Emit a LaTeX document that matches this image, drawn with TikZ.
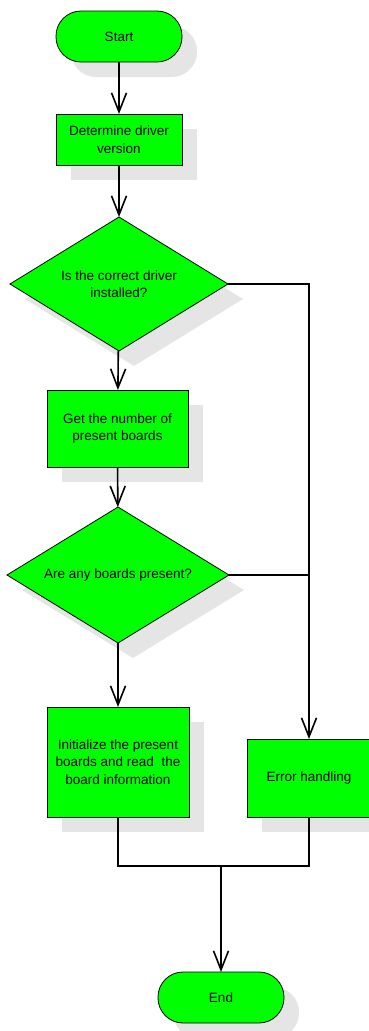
\documentclass[tikz,border=0pt]{standalone}
\usepackage{fontspec}
\setmainfont{Liberation Sans}
\usetikzlibrary{shapes.geometric,shadows,arrows.meta}
\definecolor{boxgreen}{HTML}{00FF00}
\definecolor{shadegray}{HTML}{E5E5E5}
\begin{document}
\begin{tikzpicture}[x=1pt,y=-1pt,
  base/.style={draw=black,line width=0.8pt,fill=boxgreen,outer sep=0pt,inner sep=0pt,
    align=center,font=\fontsize{13.5}{17.5}\selectfont,
    drop shadow={shadow xshift=15pt,shadow yshift=-15pt,fill=shadegray,opacity=1}},
  terminal/.style={base,rectangle,rounded corners=25pt,minimum width=126pt,minimum height=51pt},
  procbox/.style={base,rectangle},
  decision/.style={base,diamond,aspect=1.63},
  flow/.style={line width=1.6pt,draw=black},
  arr/.style={flow,-{Straight Barb[length=19pt,width=15pt]}}]
\useasboundingbox (0,0) rectangle (369,1031);
% nodes
\node[terminal] (start) at (119,36.5) {Start};
\node[procbox,minimum width=126pt,minimum height=51pt] (ver) at (119,139.5) {Determine driver\\version};
\node[decision,minimum width=218pt,minimum height=134pt] (drv) at (119,284) {Is the correct driver\\installed?};
\node[procbox,minimum width=141pt,minimum height=77pt] (num) at (117.5,428.5) {Get the number of\\present boards};
\node[decision,minimum width=222pt,minimum height=136pt] (any) at (118,575) {Are any boards present?};
\node[procbox,minimum width=142pt,minimum height=110pt] (init) at (118,762) {Initialize the present\\boards and read\ \ the\\board information};
\node[procbox,minimum width=124pt,minimum height=78pt] (err) at (309,778) {Error handling};
\node[terminal] (end) at (221,997.5) {End};
\coordinate (join) at (221,866);
% connectors
\draw[arr] (start) -- (ver);
\draw[arr] (ver) -- (drv);
\draw[arr] (drv) -- (num);
\draw[arr] (num) -- (any);
\draw[arr] (any) -- (init);
\draw[arr] (drv.east) -| (err.north);
\draw[flow] (any.east) -- (any.east -| err.north);
\draw[flow] (init.south) |- (join);
\draw[flow] (err.south) |- (join);
\draw[arr] (join) -- (end);
\end{tikzpicture}
\end{document}
